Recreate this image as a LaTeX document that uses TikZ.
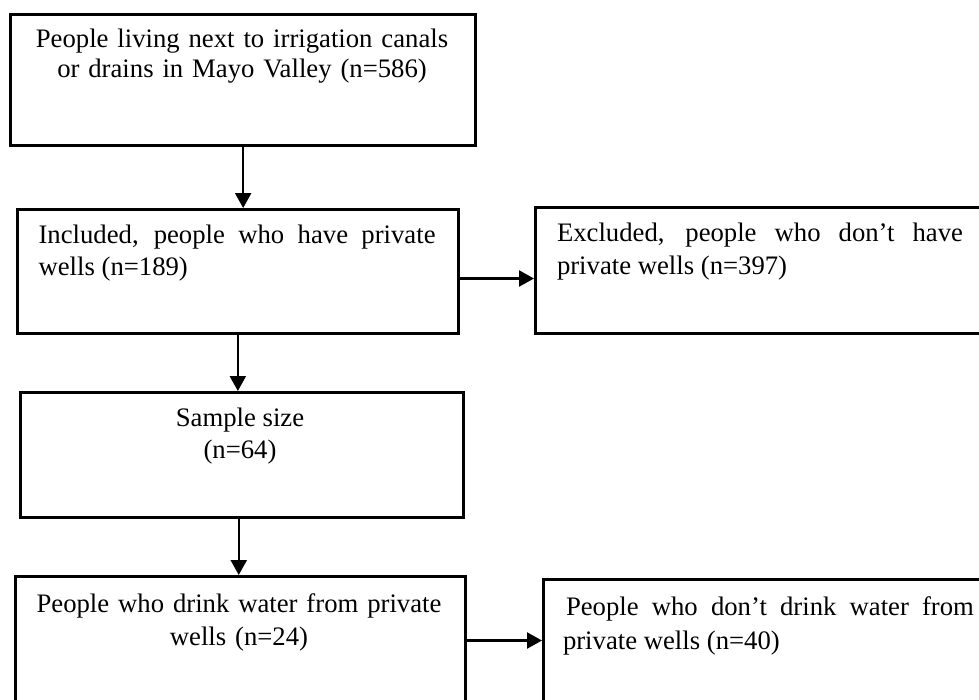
\documentclass[tikz,border=0pt]{standalone}
\usepackage{fontspec}
\setmainfont{Liberation Serif}
\usetikzlibrary{arrows.meta}
\hyphenpenalty=10000
\exhyphenpenalty=10000
\begin{document}
\begin{tikzpicture}[x=1pt,y=-1pt,
  box/.style={draw, line width=3pt, inner sep=0pt, anchor=north west},
  txt/.style={inner sep=0pt, outer sep=0pt},
  arr/.style={line width=2.2pt, -{Triangle[length=15pt,width=16pt]}}]
\clip (0,0) rectangle (979,699);
\fill[white] (0,0) rectangle (979,699);
% boxes
\node[box, minimum width=464.7pt, minimum height=131.5pt] (b1) at (9.3,12.5) {};
\node[box, minimum width=441.3pt, minimum height=124pt] (b2) at (15.7,208) {};
\node[box, minimum width=460pt, minimum height=126pt] (b3) at (534,206) {};
\node[box, minimum width=442.5pt, minimum height=125pt] (b4) at (19,391) {};
\node[box, minimum width=450pt, minimum height=150pt] (b5) at (14,575) {};
\node[box, minimum width=450pt, minimum height=150pt] (b6) at (542,578) {};
% texts
\node[txt, anchor=north, text width=420pt, align=center, font=\fontsize{26.7}{30}\selectfont] (t1) at (242,29.1)
  {People living next to irrigation canals\\or drains in Mayo Valley (n=586)};
\node[txt, anchor=north west, text width=397pt, align=justify, font=\fontsize{26.7}{32}\selectfont] (t2) at (38.6,224.8)
  {Included, people who have private wells (n=189)};
\node[txt, anchor=north west, text width=406pt, align=justify, font=\fontsize{26.7}{33}\selectfont] (t3) at (557,222.8)
  {Excluded, people who don’t have private wells (n=397)};
\node[txt, anchor=north, align=center, font=\fontsize{26.7}{32}\selectfont] (t4) at (240,407.8)
  {Sample size\\(n=64)};
\node[txt, anchor=north, text width=420pt, align=center, font=\fontsize{26.7}{33}\selectfont] (t5) at (239,593.8)
  {People who drink water from private\\wells (n=24)};
\node[txt, anchor=north west, text width=411pt, align=justify, font=\fontsize{26.7}{34}\selectfont] (t6) at (563,596.8)
  {\hspace*{3pt}People who don’t drink water from private wells (n=40)};
% arrows
\draw[arr] (b1.south) -- (b1.south |- b2.north);
\draw[arr] (b2.south) -- (b2.south |- b4.north);
\draw[arr] ([xshift=-3pt]b4.south) -- ([xshift=-3pt]b4.south |- b5.north);
\draw[arr] ([yshift=-7pt]b2.east) -- ([yshift=-7pt]b2.east -| b3.west);
\draw[arr] ([yshift=11pt]b5.east) -- ([yshift=11pt]b5.east -| b6.west);
\end{tikzpicture}
\end{document}
